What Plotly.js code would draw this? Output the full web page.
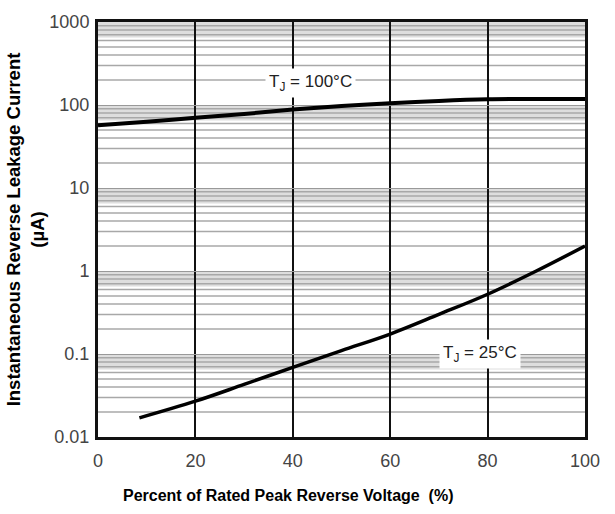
<!DOCTYPE html>
<html>
<head>
<meta charset="utf-8">
<script src="https://cdn.plot.ly/plotly-3.0.1.min.js"></script>
<style>html,body{margin:0;padding:0;background:#fff;}#chart{width:615px;height:514px;}</style>
</head>
<body>
<div id="chart"></div>
<script>
// Data
const x100 = [0, 10, 20, 30, 40, 50, 60, 70, 80, 90, 100];
const y100 = [57, 63, 70, 78, 88, 97, 105, 112, 117, 118, 118];
const x25 = [8.5, 20, 30, 40, 50, 60, 70, 80, 90, 100];
const y25 = [0.017, 0.027, 0.043, 0.069, 0.11, 0.174, 0.30, 0.525, 1.0, 2.0];
const xTicks = [0, 20, 40, 60, 80, 100];
const yTicks = [0.01, 0.1, 1, 10, 100, 1000];
const yTickText = ['0.01', '0.1', '1', '10', '100', '1000'];
const decades = [0.01, 0.1, 1, 10, 100];
const minorDigits = [2, 3, 4, 5, 6, 7, 8, 9];
const labels = [
  {x: 43.7, y: 185, text: 'T<sub>J</sub> = 100°C'},
  {x: 78.5, y: 0.1, text: 'T<sub>J</sub> = 25°C'}
];
const xTitle = '<b>Percent of Rated Peak Reverse Voltage  (%)</b>';
const yTitle = '<b>Instantaneous Reverse Leakage Current<br>(µA)</b>';

const titleFont = '"Liberation Sans", Arial, sans-serif';

const traces = [
  {x: x100, y: y100, mode: 'lines', line: {color: '#000', width: 4, shape: 'spline'}, hoverinfo: 'skip'},
  {x: x25, y: y25, mode: 'lines', line: {color: '#000', width: 3.5, shape: 'spline'}, hoverinfo: 'skip'}
];

const shapes = [];
decades.forEach(d => {
  shapes.push({
    type: 'rect', xref: 'paper', yref: 'y', x0: 0, x1: 1, y0: d * 6.5, y1: d * 10,
    fillcolor: '#dedede', line: {width: 0}, layer: 'below'
  });
  minorDigits.forEach(m => {
    shapes.push({
      type: 'line', xref: 'paper', yref: 'y', x0: 0, x1: 1, y0: d * m, y1: d * m,
      line: {color: '#a8a8a8', width: 1.5}, layer: 'below'
    });
  });
});

const annotations = labels.map(l => ({
  x: l.x, y: Math.log10(l.y), xref: 'x', yref: 'y', text: l.text, showarrow: false,
  font: {size: 17, color: '#222', family: 'Liberation Sans, Arial, sans-serif'},
  bgcolor: '#fff', borderpad: 3
}));
annotations.push({
  x: 0.392, y: -0.142, xref: 'paper', yref: 'paper', xanchor: 'center', yanchor: 'middle',
  text: xTitle, showarrow: false, font: {family: titleFont, size: 16, color: '#000'}
});

const layout = {
  width: 615, height: 514,
  margin: {l: 98, r: 30, t: 22, b: 77},
  paper_bgcolor: '#fff', plot_bgcolor: '#fff',
  showlegend: false,
  font: {family: 'Liberation Sans, Arial, sans-serif', color: '#333'},
  xaxis: {
    range: [0, 100], tickvals: xTicks, ticks: '',
    showgrid: true, gridcolor: '#111', gridwidth: 2,
    showline: true, mirror: true, linecolor: '#111', linewidth: 3,
    zeroline: false, ticklabelstandoff: 5,
    tickfont: {size: 18, color: '#444'}
  },
  yaxis: {
    type: 'log', range: [-2, 3], tickvals: yTicks, ticktext: yTickText, ticks: '',
    showgrid: true, gridcolor: '#999', gridwidth: 1,
    showline: true, mirror: true, linecolor: '#111', linewidth: 3,
    zeroline: false, ticklabelstandoff: 2,
    tickfont: {size: 18, color: '#444'},
    title: {text: yTitle, font: {family: titleFont, size: 18.5, color: '#000'}, standoff: 0}
  },
  shapes: shapes,
  annotations: annotations
};

Plotly.newPlot('chart', traces, layout, {displayModeBar: false, staticPlot: true});
</script>
</body>
</html>
